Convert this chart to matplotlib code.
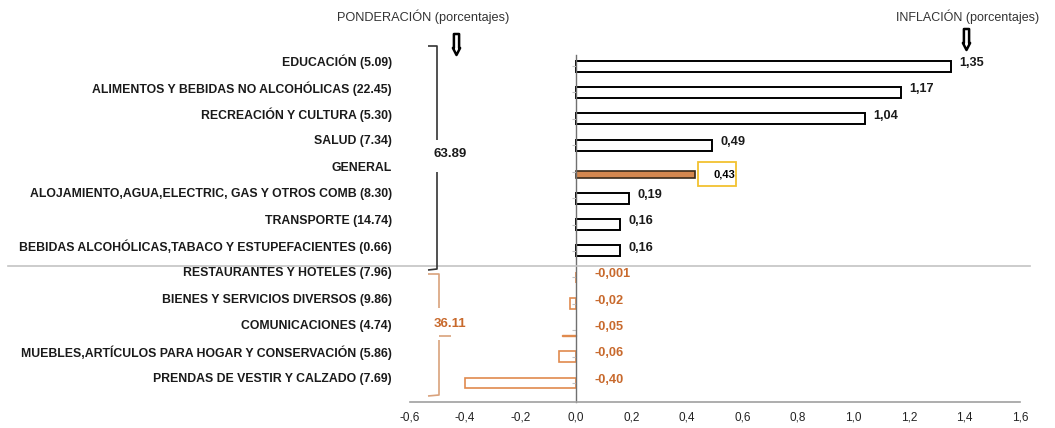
import matplotlib
matplotlib.use("Agg")
import matplotlib.pyplot as plt
from matplotlib.lines import Line2D
from matplotlib.patches import Polygon, Rectangle
from matplotlib.transforms import blended_transform_factory

# ---------------- data ----------------
categories = [
    "EDUCACIÓN (5.09)",
    "ALIMENTOS Y BEBIDAS NO ALCOHÓLICAS (22.45)",
    "RECREACIÓN Y CULTURA (5.30)",
    "SALUD (7.34)",
    "GENERAL",
    "ALOJAMIENTO,AGUA,ELECTRIC, GAS Y OTROS COMB (8.30)",
    "TRANSPORTE (14.74)",
    "BEBIDAS ALCOHÓLICAS,TABACO Y ESTUPEFACIENTES (0.66)",
    "RESTAURANTES Y HOTELES (7.96)",
    "BIENES Y SERVICIOS DIVERSOS (9.86)",
    "COMUNICACIONES (4.74)",
    "MUEBLES,ARTÍCULOS PARA HOGAR Y CONSERVACIÓN (5.86)",
    "PRENDAS DE VESTIR Y CALZADO (7.69)",
]
inflation = [1.35, 1.17, 1.04, 0.49, 0.43, 0.19, 0.16, 0.16,
             -0.001, -0.02, -0.05, -0.06, -0.40]
value_labels = ["1,35", "1,17", "1,04", "0,49", "0,43", "0,19", "0,16", "0,16",
                "-0,001", "-0,02", "-0,05", "-0,06", "-0,40"]
weight_up = "63.89"
weight_down = "36.11"
xticks = [-0.6, -0.4, -0.2, 0.0, 0.2, 0.4, 0.6, 0.8, 1.0, 1.2, 1.4, 1.6]
xtick_labels = ["-0,6", "-0,4", "-0,2", "0,0", "0,2", "0,4", "0,6", "0,8",
                "1,0", "1,2", "1,4", "1,6"]
general_label = "GENERAL"

# ---------------- style ----------------
plt.rcParams['font.family'] = ['Liberation Sans Narrow', 'Liberation Sans', 'DejaVu Sans']
W, H = 1055, 428
fig = plt.figure(figsize=(W / 100, H / 100), dpi=100)

def fx(x):
    return x / W

def fy(y):
    return 1 - y / H

ORANGE_TXT = "#C8692C"
ORANGE_EDGE = "#E08A4E"
ORANGE_BR = "#D9A27C"
GEN_FILL = "#D4874F"

ax = fig.add_axes([fx(409.5), fy(402), (1020 - 409.5) / W, (402 - 55) / H])
n = len(categories)
pos = [n - 1 - i for i in range(n)]

for p, v, cat in zip(pos, inflation, categories):
    if cat == general_label:
        ax.barh(p - 0.12, v, height=0.27, color=GEN_FILL, edgecolor="#3a2a1a", linewidth=1.2)
    elif v >= 0:
        ax.barh(p, v, height=0.42, color="white", edgecolor="black", linewidth=1.4)
    elif cat.startswith("COMUNICACIONES"):
        ax.barh(p - 0.2, v, height=0.01, color="white", edgecolor=ORANGE_EDGE, linewidth=1.0)
    else:
        ax.barh(p, v, height=0.4, color="white", edgecolor=ORANGE_EDGE, linewidth=1.2)

ax.set_xlim(-0.6, 1.6)
ax.set_ylim(-0.72, n - 1 + 0.42)
ax.set_xticks(xticks)
ax.set_xticklabels(xtick_labels, fontsize=8.5, color="#222222")
ax.tick_params(axis="x", length=0, pad=7)
ax.set_yticks(pos)
ax.set_yticklabels([])
ax.tick_params(axis="y", length=3, color="#c0c0c0", width=0.8)
ax.spines["left"].set_position(("data", 0))
ax.spines["left"].set_color("#707070")
ax.spines["left"].set_linewidth(1.0)
ax.spines["bottom"].set_color("#a0a0a0")
ax.spines["bottom"].set_linewidth(1.2)
ax.spines["top"].set_visible(False)
ax.spines["right"].set_visible(False)
ax.patch.set_alpha(0)

# category labels
lab_tr = blended_transform_factory(fig.transFigure, ax.transData)
for p, cat in zip(pos, categories):
    ax.text(fx(392), p + 0.15, cat, transform=lab_tr,
            ha="right", va="center", fontsize=8.8, fontweight="bold", color="#1a1a1a")

# value labels
for p, v, lab, cat in zip(pos, inflation, value_labels, categories):
    if cat == general_label:
        ax.add_patch(Rectangle((v + 0.01, p - 0.55), 0.137, 0.9, facecolor="white",
                               edgecolor="#F2C230", linewidth=1.3, zorder=3))
        ax.text(v + 0.145, p - 0.1, lab, ha="right", va="center", fontsize=8,
                fontweight="bold", color="black", zorder=4)
    elif v >= 0:
        ax.text(v + 0.03, p + 0.12, lab, ha="left", va="center", fontsize=9.2,
                fontweight="bold", color="#1a1a1a")
    else:
        ax.text(0.068, p + 0.12, lab, ha="left", va="center", fontsize=9.2,
                fontweight="bold", color=ORANGE_TXT)

# separator line
fig.add_artist(Line2D([fx(8), fx(1030)], [fy(265.5), fy(265.5)], color="#c4c4c4", lw=1.2))

# brackets
def pline(xs, ys, color, lw=1.2):
    fig.add_artist(Line2D([fx(x) for x in xs], [fy(y) for y in ys], color=color, lw=lw,
                          solid_joinstyle="round", solid_capstyle="butt"))

pline([428, 437, 437], [46, 46, 140], "#333333")
pline([437, 437, 428], [172, 269, 270], "#333333")
fig.text(fx(433), fy(154), weight_up, ha="left", va="center", fontsize=9.5,
         fontweight="bold", color="#1a1a1a")

pline([428, 439, 439], [274, 274, 308], ORANGE_BR)
pline([439, 439, 428], [340, 395, 396], ORANGE_BR)
pline([439, 451], [336, 336], ORANGE_BR)
fig.text(fx(434), fy(324), weight_down, ha="left", va="center", fontsize=9.5,
         fontweight="bold", color=ORANGE_TXT)

# titles
fig.text(fx(423), fy(17), "PONDERACIÓN (porcentajes)", ha="center", va="center",
         fontsize=9.2, color="#333333")
fig.text(fx(968), fy(17), "INFLACIÓN (porcentajes)", ha="center", va="center",
         fontsize=9.0, color="#333333")

# arrows
def arrow(cx, top, bottom):
    bw, hw = 2.6, 3.6
    neck = bottom - 7
    pts = [(cx - bw, top), (cx + bw, top), (cx + bw, neck), (cx + hw, neck),
           (cx, bottom), (cx - hw, neck), (cx - bw, neck)]
    fig.add_artist(Polygon([(fx(x), fy(y)) for x, y in pts], closed=True,
                           facecolor="white", edgecolor="black", lw=1.8,
                           transform=fig.transFigure, joinstyle="round"))

arrow(456.5, 34, 55)
arrow(966.5, 29, 50)

fig.savefig("out.png", dpi=100)
